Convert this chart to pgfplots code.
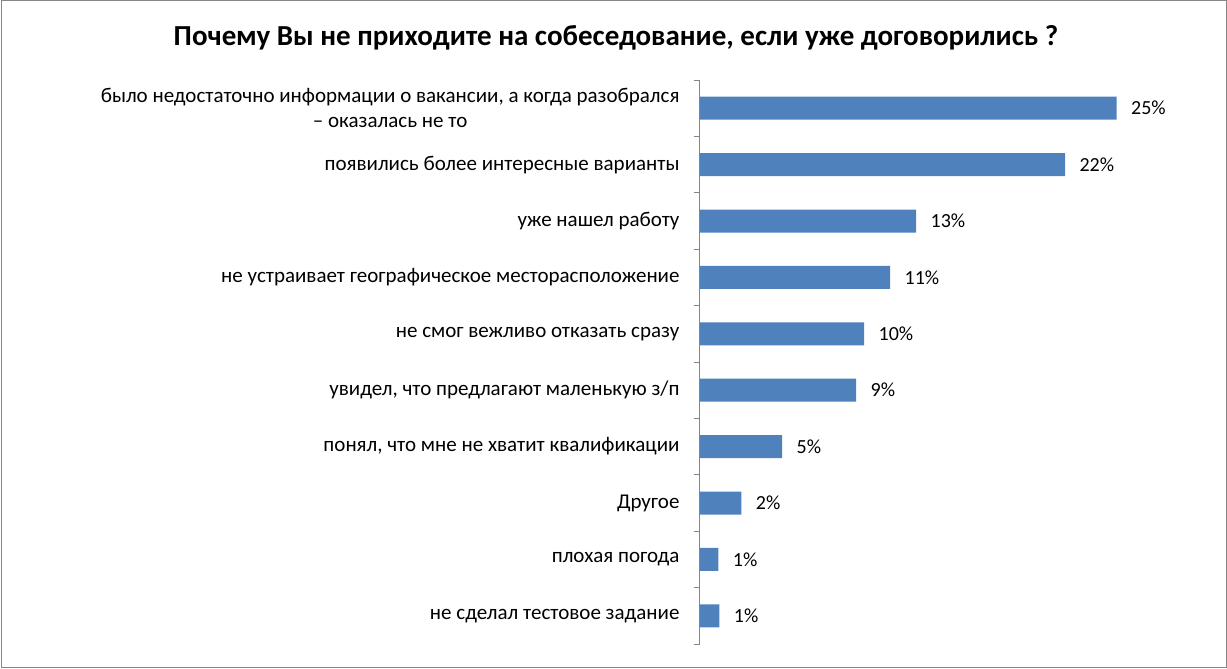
\documentclass[border=0pt]{standalone}
\usepackage{pgfplots}
\pgfplotsset{compat=1.18}
\usepackage{pgfplotstable}
\usepackage{fontspec}
\setmainfont{Carlito}
\definecolor{barblue}{HTML}{4F81BD}
\definecolor{axgray}{HTML}{868686}
\pgfplotstableread[col sep=comma]{
idx,val,lab
0,25.0,25
1,21.9,22
2,12.97,13
3,11.41,11
4,9.85,10
5,9.37,9
6,4.93,5
7,2.48,2
8,1.10,1
9,1.16,1
}\datatable
\begin{document}
\begin{tikzpicture}[x=1pt,y=1pt]
\useasboundingbox (0,0) rectangle (1227,669);
\draw[axgray, line width=1pt] (1,1) rectangle (1226,668);
\node[font=\fontsize{29}{34}\selectfont\bfseries] at (616,631) {Почему Вы не приходите на собеседование, если уже договорились ?};
\begin{axis}[
  scale only axis,
  width=500pt, height=564pt,
  at={(700pt,25pt)}, anchor=south west,
  xmin=0, xmax=30,
  ymin=-0.5, ymax=9.5,
  y dir=reverse,
  axis y line=left,
  axis x line=none,
  axis line style={-, axgray, line width=1pt},
  ytick={0,...,9},
  yticklabels={
    {было недостаточно информации о вакансии, а когда разобрался\\– оказалась не то},
    {появились более интересные варианты},
    {уже нашел работу},
    {не устраивает географическое месторасположение},
    {не смог вежливо отказать сразу},
    {увидел, что предлагают маленькую з/п},
    {понял, что мне не хватит квалификации},
    {Другое},
    {плохая погода},
    {не сделал тестовое задание}},
  yticklabel style={font=\fontsize{21}{25}\selectfont, align=center, xshift=-17pt},
  major tick length=0pt,
  minor ytick={-0.5,0.5,...,9.5},
  minor tick length=6pt,
  tick align=outside,
  minor tick style={axgray, line width=1pt},
  xbar, bar width=23pt,
  point meta=explicit symbolic,
  nodes near coords={\pgfplotspointmeta\%},
  nodes near coords style={font=\fontsize{20}{24}\selectfont, anchor=west, xshift=11pt},
  clip=false,
]
\addplot[fill=barblue, draw=none] table[x=val, y=idx, meta=lab] {\datatable};
\end{axis}
\end{tikzpicture}
\end{document}
